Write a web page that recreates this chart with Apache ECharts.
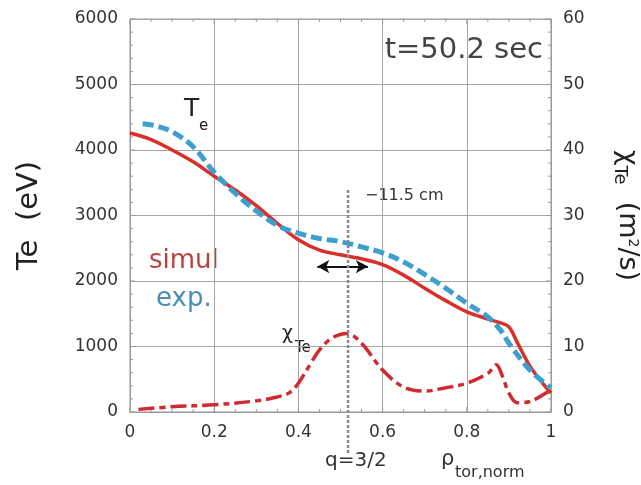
<!DOCTYPE html>
<html><head><meta charset="utf-8">
<script src="https://cdn.jsdelivr.net/npm/echarts@6/dist/echarts.min.js"></script>
<style>html,body{margin:0;padding:0;background:#fff}#c{width:641px;height:485px}</style>
</head><body><div id="c"></div>
<script>
// Simulated Te profile (eV)
var rhoSim = [0, 0.05, 0.1, 0.15, 0.2, 0.25, 0.3, 0.35, 0.4, 0.45, 0.5, 0.55, 0.6, 0.65, 0.7, 0.75, 0.8, 0.85, 0.88, 0.9, 0.92, 0.95, 0.98, 1];
var teSim  = [4260, 4160, 4000, 3820, 3600, 3390, 3150, 2880, 2630, 2470, 2400, 2340, 2250, 2090, 1890, 1700, 1530, 1420, 1360, 1300, 1060, 700, 440, 290];
// Experimental Te profile (eV)
var rhoExp = [0.03, 0.06, 0.1, 0.15, 0.2, 0.25, 0.3, 0.35, 0.4, 0.45, 0.5, 0.55, 0.6, 0.65, 0.7, 0.75, 0.8, 0.85, 0.88, 0.9, 0.95, 1];
var teExp  = [4400, 4370, 4280, 4050, 3660, 3340, 3070, 2850, 2730, 2650, 2600, 2520, 2430, 2290, 2100, 1890, 1660, 1450, 1250, 1050, 640, 370];
// Electron heat diffusivity chi_Te (m^2/s)
var rhoChi = [0.02, 0.1, 0.2, 0.3, 0.35, 0.38, 0.4, 0.43, 0.45, 0.48, 0.515, 0.55, 0.6, 0.65, 0.7, 0.75, 0.8, 0.85, 0.87, 0.885, 0.9, 0.92, 0.95, 1];
var chiTe  = [0.4, 0.8, 1.1, 1.7, 2.3, 3.0, 4.4, 7.5, 9.5, 11.3, 12.0, 10.5, 6.4, 3.8, 3.2, 3.7, 4.4, 5.9, 7.2, 5.4, 2.9, 1.4, 1.6, 3.4];
// q=3/2 surface marker and the -11.5 cm shift arrow
var qRho = 0.518;
var qLineTe = [3390, -656];
var arrowRho = [0.445, 0.565];
var arrowTe = 2220;
// Axis tick settings
var xTicks = {min: 0, max: 1, interval: 0.2, minor: 4};
var teTicks = {min: 0, max: 6000, interval: 1000, minor: 5};
var chiTicks = {min: 0, max: 60, interval: 10, minor: 5};

function zip(a, b) { return a.map(function (v, i) { return [v, b[i]]; }); }
// list of [value, isMajor] tick positions of an axis
function tickList(t) {
  var out = [], step = t.interval / t.minor, n = Math.round((t.max - t.min) / step);
  for (var i = 0; i <= n; i++) out.push([Math.round((t.min + i * step) * 1e6) / 1e6, i % t.minor === 0 ? 1 : 0]);
  return out;
}

var FONT = 'DejaVu Sans';
var TICK = '#999';
var chart = echarts.init(document.getElementById('c'), null, {renderer: 'canvas'});
var lbl = {fontFamily: FONT, fontSize: 17, color: '#333', formatter: function (v) { return String(v); }};
var gridCol = '#a6a6a6';

function tickLine(x1, y1, x2, y2) {
  return {type: 'line', shape: {x1: x1, y1: y1, x2: x2, y2: y2}, style: {stroke: TICK, lineWidth: 1}, silent: true};
}
// inward ticks drawn through the axes' own scales
function xTickSeries() {
  return {
    type: 'custom', coordinateSystem: 'cartesian2d', xAxisIndex: 0, yAxisIndex: 0, clip: false, silent: true, z: 1,
    data: tickList(xTicks).map(function (d) { return [d[0], teTicks.min, d[1]]; }),
    renderItem: function (params, api) {
      var v = api.value(0), len = api.value(2) ? 5 : 3;
      var b = api.coord([v, teTicks.min]), t = api.coord([v, teTicks.max]);
      return {type: 'group', children: [tickLine(b[0], b[1], b[0], b[1] - len), tickLine(t[0], t[1], t[0], t[1] + len)]};
    }
  };
}
function yTickSeries(t, axisIdx, edgeX, dir) {
  return {
    type: 'custom', coordinateSystem: 'cartesian2d', xAxisIndex: 0, yAxisIndex: axisIdx, clip: false, silent: true, z: 1,
    data: tickList(t).map(function (d) { return [edgeX, d[0], d[1]]; }),
    renderItem: function (params, api) {
      var p = api.coord([api.value(0), api.value(1)]), len = api.value(2) ? 5 : 3;
      return tickLine(p[0], p[1], p[0] + dir * len, p[1]);
    }
  };
}

chart.setOption({
  animation: false,
  grid: {left: 130, right: 90, top: 19, bottom: 73, show: true, borderColor: '#999', borderWidth: 1,
         containLabel: false, outerBoundsMode: 'none'},
  xAxis: [{
    type: 'value', min: xTicks.min, max: xTicks.max, interval: xTicks.interval,
    axisLine: {show: true, lineStyle: {color: '#999'}},
    axisTick: {show: false}, minorTick: {show: false},
    splitLine: {show: true, lineStyle: {color: gridCol, width: 1}},
    axisLabel: Object.assign({margin: 12}, lbl)
  }],
  yAxis: [{
    type: 'value', min: teTicks.min, max: teTicks.max, interval: teTicks.interval,
    name: 'Te  (eV)', nameLocation: 'middle', nameGap: 86,
    nameTextStyle: {fontFamily: FONT, fontSize: 29, color: '#222'},
    axisLine: {show: true, lineStyle: {color: '#999'}},
    axisTick: {show: false}, minorTick: {show: false},
    splitLine: {show: true, lineStyle: {color: gridCol, width: 1}},
    axisLabel: Object.assign({margin: 12}, lbl)
  }, {
    type: 'value', position: 'right', min: chiTicks.min, max: chiTicks.max, interval: chiTicks.interval,
    name: '{a|χ}{s|Te}  {a|(m}{p|2}{a|/s)}', nameLocation: 'middle', nameGap: 60, nameRotate: -90,
    nameTextStyle: {fontFamily: FONT, fontSize: 27, color: '#222', rich: {
      a: {fontFamily: FONT, fontSize: 27, color: '#222'},
      s: {fontFamily: FONT, fontSize: 18, color: '#222', padding: [14, 0, 0, 0]},
      p: {fontFamily: FONT, fontSize: 14, color: '#222', padding: [0, 0, 12, 0]}
    }},
    axisLine: {show: true, lineStyle: {color: '#999'}},
    axisTick: {show: false}, minorTick: {show: false},
    splitLine: {show: false},
    axisLabel: Object.assign({margin: 12}, lbl)
  }],
  series: [
    xTickSeries(),
    yTickSeries(teTicks, 0, xTicks.min, 1),
    yTickSeries(chiTicks, 1, xTicks.max, -1),
  {
    type: 'line', data: zip(rhoChi, chiTe), yAxisIndex: 1, smooth: 0.35, showSymbol: false,
    lineStyle: {color: '#cf2a30', width: 3.5, type: [16, 5, 6, 5]}, z: 3
  }, {
    type: 'line', data: zip(rhoSim, teSim), smooth: 0.35, showSymbol: false,
    lineStyle: {color: '#d9302b', width: 3.5}, z: 4,
    markLine: {
      silent: true, symbol: ['arrow', 'arrow'], symbolSize: [10, 12], label: {show: false},
      lineStyle: {color: '#111', width: 2, type: 'solid'},
      data: [[{coord: [arrowRho[0], arrowTe]}, {coord: [arrowRho[1], arrowTe]}]]
    }
  }, {
    type: 'line', data: zip(rhoExp, teExp), smooth: 0.35, showSymbol: false,
    lineStyle: {color: '#3d9fcf', width: 5, type: [11, 5]}, z: 5
  }, {
    type: 'line', data: [[qRho, qLineTe[0]], [qRho, qLineTe[1]]], clip: false, showSymbol: false,
    lineStyle: {color: '#888', width: 2.5, type: [3, 2]}, z: 6
  }],
  graphic: [
    {type: 'text', right: 641 - 543, top: 36, style: {text: 't=50.2 sec', font: '29px "DejaVu Sans"', fill: '#444'}},
    {type: 'text', left: 184, top: 97, style: {text: 'T', font: '25px "DejaVu Sans"', fill: '#222'}},
    {type: 'text', left: 199, top: 119, style: {text: 'e', font: '15px "DejaVu Sans"', fill: '#222'}},
    {type: 'text', left: 149, top: 248, style: {text: 'simul', font: '26px "DejaVu Sans"', fill: '#b9423e'}},
    {type: 'text', left: 156, top: 286, style: {text: 'exp.', font: '26px "DejaVu Sans"', fill: '#4b8db5'}},
    {type: 'text', left: 282, top: 325, style: {text: 'χ', font: '19px "DejaVu Sans"', fill: '#222'}},
    {type: 'text', left: 295, top: 341, style: {text: 'Te', font: '15px "DejaVu Sans"', fill: '#222'}},
    {type: 'text', left: 365, top: 188, style: {text: '−11.5 cm', font: '16px "DejaVu Sans"', fill: '#333'}},
    {type: 'text', left: 325, top: 451, style: {text: 'q=3/2', font: '20px "DejaVu Sans"', fill: '#333'}},
    {type: 'text', left: 441, top: 449, style: {text: 'ρ', font: '21px "DejaVu Sans"', fill: '#333'}},
    {type: 'text', left: 455, top: 465, style: {text: 'tor,norm', font: '16px "DejaVu Sans"', fill: '#333'}}
  ]
});
</script></body></html>
